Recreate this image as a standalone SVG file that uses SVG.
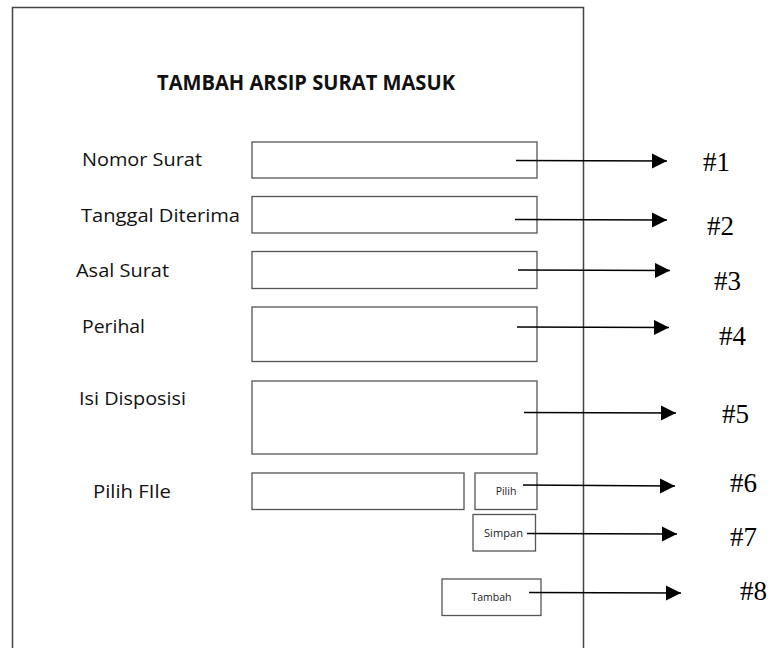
<svg xmlns="http://www.w3.org/2000/svg" width="778" height="648" viewBox="0 0 778 648">
<style>
.lbl{font-family:"Open Sans","Noto Sans","Liberation Sans",sans-serif;font-size:19px;fill:#111}
.ttl{font-family:"Open Sans","Noto Sans","Liberation Sans",sans-serif;font-size:21.5px;font-weight:bold;fill:#111}
.box{fill:#fff;stroke:#555;stroke-width:1.3}
.btn{font-family:"Open Sans","Noto Sans","Liberation Sans",sans-serif;font-size:10.5px;fill:#222}
.num{font-family:"Liberation Serif","Times New Roman",serif;font-size:27px;fill:#000}
.con{stroke:#000;stroke-width:1.4;fill:none;marker-end:url(#ah)}
</style>
<defs>
<marker id="ah" markerUnits="userSpaceOnUse" markerWidth="16" markerHeight="16" refX="15" refY="7.5" orient="auto">
<path d="M0,0 L15,7.5 L0,15 Z" fill="#000"/>
</marker>
</defs>
<rect width="778" height="648" fill="#fff"/>
<g id="frame">
<path d="M12.5,660 V7.5 H583.5 V660" fill="none" stroke="#444" stroke-width="1.5"/>
<text class="ttl" x="157" y="90" textLength="298" lengthAdjust="spacingAndGlyphs">TAMBAH ARSIP SURAT MASUK</text>
</g>
<g id="field-nomor">
<text class="lbl" x="82" y="166" textLength="120" lengthAdjust="spacingAndGlyphs">Nomor Surat</text>
<rect class="box" x="252" y="142" width="285" height="36"/>
</g>
<g id="field-tanggal">
<text class="lbl" x="81" y="222" textLength="159" lengthAdjust="spacingAndGlyphs">Tanggal Diterima</text>
<rect class="box" x="252" y="196.5" width="285" height="36.5"/>
</g>
<g id="field-asal">
<text class="lbl" x="76" y="277" textLength="93" lengthAdjust="spacingAndGlyphs">Asal Surat</text>
<rect class="box" x="252" y="251.5" width="285" height="37"/>
</g>
<g id="field-perihal">
<text class="lbl" x="82" y="332.5" textLength="63" lengthAdjust="spacingAndGlyphs">Perihal</text>
<rect class="box" x="252" y="307" width="285" height="54.5"/>
</g>
<g id="field-disposisi">
<text class="lbl" x="79" y="405" textLength="107" lengthAdjust="spacingAndGlyphs">Isi Disposisi</text>
<rect class="box" x="252" y="381" width="285" height="73"/>
</g>
<g id="field-file">
<text class="lbl" x="93" y="498" textLength="78" lengthAdjust="spacingAndGlyphs">Pilih FIle</text>
<rect class="box" x="252" y="473" width="212" height="36.5"/>
</g>
<g id="btn-pilih">
<rect class="box" x="475" y="473" width="62" height="36.5"/>
<text class="btn" x="506" y="494.5" text-anchor="middle">Pilih</text>
</g>
<g id="btn-simpan">
<rect class="box" x="473" y="514.5" width="62.5" height="36.5"/>
<text class="btn" x="484" y="537" textLength="39" lengthAdjust="spacingAndGlyphs">Simpan</text>
</g>
<g id="btn-tambah">
<rect class="box" x="442" y="579" width="99" height="36.5"/>
<text class="btn" x="491.5" y="601" text-anchor="middle">Tambah</text>
</g>
<g id="connectors">
<line class="con" x1="516" y1="160.5" x2="667" y2="161"/>
<line class="con" x1="515" y1="219.5" x2="667" y2="220"/>
<line class="con" x1="518" y1="270" x2="670" y2="270.5"/>
<line class="con" x1="517" y1="327" x2="669" y2="327.5"/>
<line class="con" x1="524" y1="412.5" x2="676" y2="413"/>
<line class="con" x1="523" y1="485" x2="675" y2="486"/>
<line class="con" x1="527" y1="533.5" x2="677" y2="534"/>
<line class="con" x1="529" y1="592.5" x2="681" y2="593"/>
</g>
<g id="numbers">
<text class="num" x="703" y="171">#1</text>
<text class="num" x="707" y="235">#2</text>
<text class="num" x="714" y="290">#3</text>
<text class="num" x="719" y="345">#4</text>
<text class="num" x="722" y="423">#5</text>
<text class="num" x="730" y="492">#6</text>
<text class="num" x="730" y="546">#7</text>
<text class="num" x="740" y="600">#8</text>
</g>
</svg>
